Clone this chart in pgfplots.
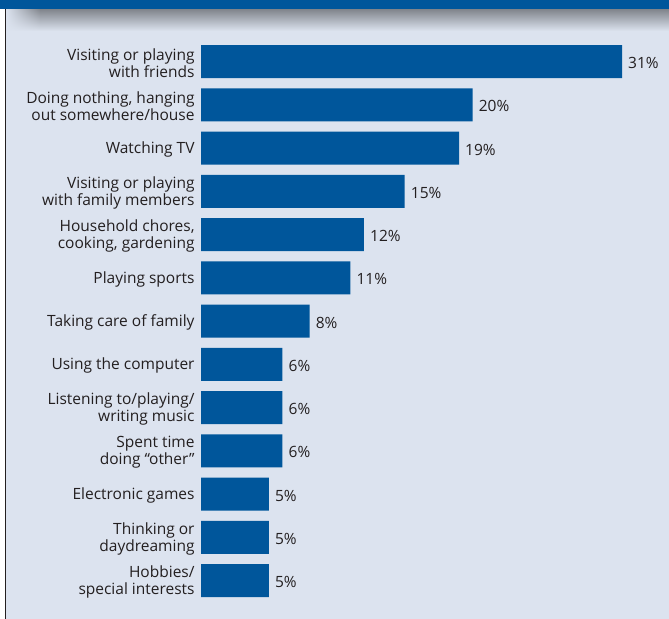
\documentclass[border=0pt]{standalone}
\usepackage{fontspec}
\setmainfont{Open Sans}
\usepackage{pgfplots}
\pgfplotsset{compat=1.18}
\usetikzlibrary{fadings}
\definecolor{bg}{HTML}{DCE3EF}
\definecolor{barblue}{HTML}{00569B}
\definecolor{txt}{HTML}{231F20}
\newcommand{\lbl}{\fontsize{15.5bp}{17.5bp}\selectfont}
\tikzfading[name=fadel, left color=transparent!100, right color=transparent!0]
\begin{document}
\begin{tikzpicture}
\path[use as bounding box] (0bp,0bp) rectangle (669bp,619bp);
\fill[white] (0bp,0bp) rectangle (669bp,619bp);
\fill[bg] (5bp,0bp) rectangle (669bp,610bp);
\shade[top color=black!42!bg, bottom color=bg] (40bp,588bp) rectangle (669bp,610bp);
\shade[top color=black!42!bg, bottom color=bg, path fading=fadel] (6bp,588bp) rectangle (40.5bp,610bp);
\fill[barblue] (0bp,610bp) rectangle (669bp,619bp);
\draw[line width=1.3bp, txt] (5.5bp,0bp) -- (5.5bp,610bp);
\begin{axis}[
  at={(201bp,0bp)}, anchor=south west,
  scale only axis, width=468bp, height=619bp,
  xbar, xmin=0, xmax=34.46, ymin=-1.422, ymax=12.89, y dir=reverse,
  axis line style={draw=none}, tick style={draw=none},
  xtick=\empty, ytick={0,...,12},
  yticklabels={{Visiting or playing\\with friends},{Doing nothing, hanging\\out somewhere/house},{Watching TV},{Visiting or playing\\with family members},{Household chores,\\cooking, gardening},{Playing sports},{Taking care of family},{Using the computer},{Listening to/playing/\\writing music},{Spent time\\doing “other”},{Electronic games},{Thinking or\\daydreaming},{Hobbies/\\special interests}},
  yticklabel style={align=right, font=\lbl, text=txt, inner xsep=2bp, yshift=-1.5bp},
  bar width=33bp,
  point meta=x,
  /pgf/number format/assume math mode=true,
  nodes near coords={\pgfmathprintnumber{\pgfplotspointmeta}\%},
  nodes near coords style={font=\lbl, text=txt, inner xsep=6bp, yshift=-1.5bp},
  clip=false,
]
\addplot[fill=barblue, draw=none] coordinates {(31,0) (20,1) (19,2) (15,3) (12,4) (11,5) (8,6) (6,7) (6,8) (6,9) (5,10) (5,11) (5,12)};
\end{axis}
\end{tikzpicture}
\end{document}
